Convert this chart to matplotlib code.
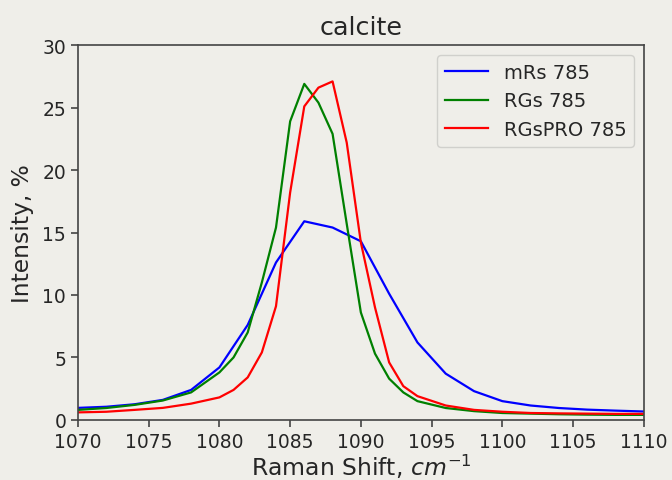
import matplotlib
matplotlib.use("Agg")
import matplotlib.pyplot as plt

# Raman shift (cm^-1)
shift_mrs = [1070, 1072, 1074, 1076, 1078, 1080, 1082, 1084, 1086, 1088, 1090,
             1092, 1094, 1096, 1098, 1100, 1102, 1104, 1106, 1108, 1110]
shift_rgs = [1070, 1072, 1074, 1076, 1078, 1080, 1081, 1082, 1083, 1084, 1085,
             1086, 1087, 1088, 1089, 1090, 1091, 1092, 1093, 1094, 1096, 1098,
             1100, 1102, 1104, 1106, 1108, 1110]

# Intensity (%)
mrs_785 = [0.96, 1.05, 1.25, 1.6, 2.4, 4.2, 7.6, 12.6, 15.9, 15.4, 14.3,
           10.1, 6.2, 3.7, 2.3, 1.5, 1.15, 0.95, 0.82, 0.74, 0.67]
rgs_785 = [0.8, 0.95, 1.2, 1.55, 2.2, 3.8, 5.0, 7.0, 11.0, 15.4, 23.9,
           26.9, 25.4, 22.9, 15.7, 8.6, 5.3, 3.3, 2.2, 1.5, 0.95, 0.7,
           0.55, 0.5, 0.45, 0.42, 0.4, 0.4]
rgspro_785 = [0.6, 0.65, 0.8, 0.96, 1.3, 1.8, 2.4, 3.4, 5.4, 9.1, 18.2,
              25.1, 26.6, 27.1, 22.2, 14.2, 9.0, 4.6, 2.7, 1.9, 1.15, 0.8,
              0.65, 0.55, 0.52, 0.5, 0.48, 0.48]

bg = "#efeee9"
text_color = "#262626"

fig = plt.figure(figsize=(6.72, 4.81), dpi=100, facecolor=bg)
ax = fig.add_axes([0.116, 0.125, 0.842, 0.779], facecolor=bg)

ax.plot(shift_mrs, mrs_785, color="blue", lw=1.6, label="mRs 785")
ax.plot(shift_rgs, rgs_785, color="green", lw=1.6, label="RGs 785")
ax.plot(shift_rgs, rgspro_785, color="red", lw=1.6, label="RGsPRO 785")

ax.set_xlim(1070, 1110)
ax.set_ylim(0, 30)
ax.set_xticks(range(1070, 1111, 5))
ax.set_yticks(range(0, 31, 5))
ax.tick_params(labelsize=13.5, colors="#444444", labelcolor=text_color,
               length=5, width=1.2)
for side in ax.spines.values():
    side.set_color("#444444")
    side.set_linewidth(1.2)

ax.set_title("calcite", fontsize=18.3, color=text_color, pad=8)
ax.set_xlabel("Raman Shift, $cm^{-1}$", fontsize=16.9, color=text_color, labelpad=1)
ax.set_ylabel("Intensity, %", fontsize=16.8, color=text_color, labelpad=6)

leg = ax.legend(loc="upper right", fontsize=14, facecolor=bg,
                edgecolor="#d0d0cc", framealpha=1, handlelength=2.2)
for t in leg.get_texts():
    t.set_color(text_color)

fig.savefig("out.png", dpi=100, facecolor=bg)
